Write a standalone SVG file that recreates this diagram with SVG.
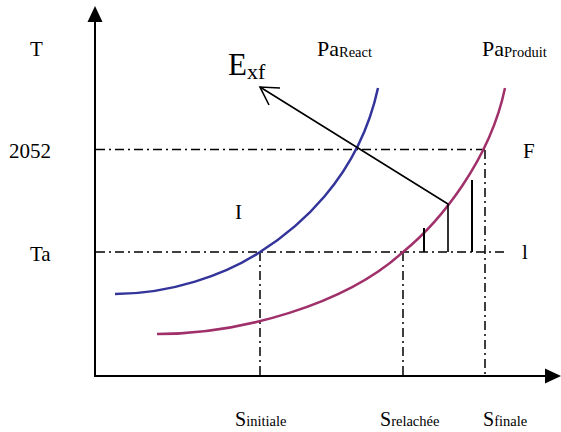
<svg xmlns="http://www.w3.org/2000/svg" width="561" height="432" viewBox="0 0 561 432">
<style>
text{font-family:"Liberation Serif","Times New Roman",serif;fill:#000}
.lab{font-size:21px}
.sub{font-size:14.5px}
.dd{fill:none;stroke:#000;stroke-width:1.5;stroke-dasharray:9 4 2 4}
.ax{fill:none;stroke:#000;stroke-width:2}
.bar{fill:none;stroke:#000;stroke-width:2}
</style>
<rect width="561" height="432" fill="#fff"/>
<g id="guides">
<line class="dd" x1="96" y1="149.5" x2="487" y2="149.5"/>
<line class="dd" x1="96" y1="252" x2="505" y2="252"/>
<line class="dd" x1="260" y1="252" x2="260" y2="376"/>
<line class="dd" x1="403" y1="252" x2="403" y2="376"/>
<line class="dd" x1="485" y1="150" x2="485" y2="376"/>
</g>
<g id="curves">
<path id="pa-react" d="M115,294 C170,294 225,275 260,252 C295,230 358,180 378,88" fill="none" stroke="#33359a" stroke-width="2.5"/>
<path id="pa-produit" d="M157,334 C240,334 345,305 403,252 C440,222 490,160 505,88" fill="none" stroke="#a0306a" stroke-width="2.5"/>
</g>
<g id="connectors">
<line class="ax" x1="95" y1="377" x2="95" y2="20"/>
<polygon points="95,6 87.5,22 102.5,22"/>
<line class="ax" x1="94" y1="376" x2="548" y2="376"/>
<polygon points="561,376 545,368.5 545,383.5"/>
<polyline points="448,252 448,204 260,87" fill="none" stroke="#000" stroke-width="1.6"/>
<polyline points="280,88 260,87 269,105" fill="none" stroke="#000" stroke-width="1.6"/>
<line class="bar" x1="424" y1="228" x2="424" y2="252"/>
<line class="bar" x1="472" y1="180" x2="472" y2="252"/>
</g>
<g id="labels" font-family="Liberation Serif, serif">
<text class="lab" x="30" y="56">T</text>
<text class="lab" x="9" y="158">2052</text>
<text class="lab" x="30" y="261">Ta</text>
<text class="lab" x="235" y="219">I</text>
<text class="lab" x="523" y="158">F</text>
<text class="lab" x="522" y="259">l</text>
<text x="317" y="56" style="font-size:22px">Pa<tspan class="sub" dy="1">React</tspan></text>
<text x="482" y="56" style="font-size:22px">Pa<tspan class="sub" dy="1">Produit</tspan></text>
<text x="228" y="75" style="font-size:31px">E<tspan dy="4" style="font-size:22px">xf</tspan></text>
<text x="235" y="426" style="font-size:20px">S<tspan class="sub">initiale</tspan></text>
<text x="380" y="426" style="font-size:20px">S<tspan class="sub">relachée</tspan></text>
<text x="483" y="426" style="font-size:20px">S<tspan class="sub">finale</tspan></text>
</g>
</svg>
